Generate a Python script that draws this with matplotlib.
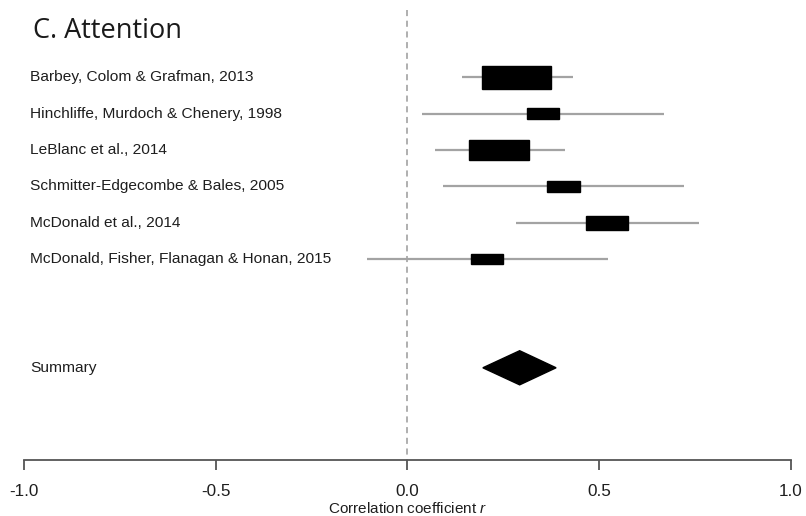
import matplotlib.pyplot as plt
from matplotlib.patches import Rectangle, Polygon

# Studies, correlation estimates and 95% CI
studies = [
    "Barbey, Colom & Grafman, 2013",
    "Hinchliffe, Murdoch & Chenery, 1998",
    "LeBlanc et al., 2014",
    "Schmitter-Edgecombe & Bales, 2005",
    "McDonald et al., 2014",
    "McDonald, Fisher, Flanagan & Honan, 2015",
]
r_est = [0.285, 0.353, 0.239, 0.407, 0.521, 0.208]
ci_low = [0.143, 0.038, 0.073, 0.093, 0.283, -0.106]
ci_high = [0.431, 0.669, 0.410, 0.722, 0.761, 0.524]
box_w = [0.181, 0.083, 0.155, 0.085, 0.110, 0.083]  # box size ~ study weight

summary_est = 0.293
summary_low = 0.197
summary_high = 0.388

xticks = [-1.0, -0.5, 0.0, 0.5, 1.0]

plt.rcParams['font.family'] = ['Liberation Sans', 'DejaVu Sans']
plt.rcParams['mathtext.fontset'] = 'custom'
plt.rcParams['mathtext.it'] = 'Liberation Sans:italic'

W, H = 806, 516
fig = plt.figure(figsize=(W / 100, H / 100), dpi=100)
ax = fig.add_axes([24 / W, (H - 460) / H, (790.7 - 24) / W, 460 / H])

ax.set_xlim(-1, 1)
ax.set_ylim(11.54, -1.13)

# reference line at r = 0
ax.plot([0, 0], [-0.85, 11.54], color='#9a9a9a', lw=1.1, ls=(0, (4, 3)), zorder=1)

rows = list(range(1, len(studies) + 1))
for y, name, est, lo, hi, w in zip(rows, studies, r_est, ci_low, ci_high, box_w):
    ax.plot([lo, hi], [y, y], color='#a3a3a3', lw=1.6, solid_capstyle='butt', zorder=2)
    h = w * 3.5
    ax.add_patch(Rectangle((est - w / 2, y - h / 2), w, h, color='black', zorder=3))
    ax.text(-0.984, y, name, fontsize=11.15, color='#1e1e1e', va='center', ha='left')

# pooled estimate
ys = 9
dh = 0.47
ax.add_patch(Polygon([(summary_low, ys), (summary_est, ys - dh),
                      (summary_high, ys), (summary_est, ys + dh)],
                     closed=True, color='black', zorder=3))
ax.text(-0.984, ys, "Summary", fontsize=11.15, color='#1e1e1e', va='center', ha='left')

for s in ['top', 'left', 'right']:
    ax.spines[s].set_visible(False)
ax.spines['bottom'].set_color('#555555')
ax.spines['bottom'].set_linewidth(1.3)
ax.set_yticks([])
ax.set_xticks(xticks)
ax.set_xticklabels([f"{t:.1f}" for t in xticks], fontsize=12.3, color='#1e1e1e')
ax.tick_params(axis='x', direction='out', length=7, width=1.3, color='#555555', pad=10.5)
ax.set_xlabel(r"Correlation coefficient $\it{r}$", fontsize=11, color='#1e1e1e', labelpad=1.5)

fig.text(33 / W, 1 - 31 / H, "C. Attention", fontsize=19.5, family='Open Sans',
         color='#1a1a1a', va='center', ha='left')

fig.savefig("out.png", dpi=100)
